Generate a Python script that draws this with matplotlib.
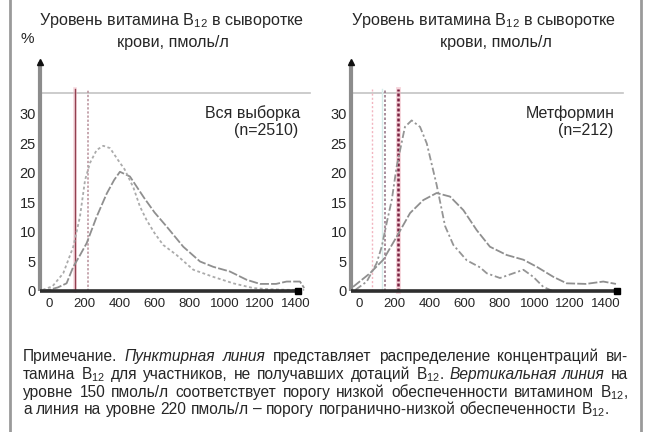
import matplotlib
matplotlib.use('Agg')
import matplotlib.pyplot as plt
from matplotlib.lines import Line2D

plt.rcParams['font.family'] = ['Liberation Sans', 'DejaVu Sans']

# ---------------- data ----------------
x_ticks = [0, 200, 400, 600, 800, 1000, 1200, 1400]
y_ticks = [0, 5, 10, 15, 20, 25, 30]
thresholds = [150, 220]
ref_level = 33.6

# Left panel: all participants (n=2510)
all_x = [-40, 0, 50, 100, 138, 175, 214, 271, 328, 370, 403, 460, 540, 600, 669,
         763, 858, 933, 1028, 1123, 1199, 1290, 1350, 1426, 1450]
all_y = [0.0, 0.2, 0.6, 1.3, 4.1, 6.0, 8.1, 12.6, 16.5, 18.8, 20.2, 19.4, 15.8, 13.3, 10.9,
         7.5, 5.0, 4.1, 3.3, 1.9, 1.2, 1.2, 1.6, 1.6, 0.5]
# Left panel: no B12 supplements (dashed)
all_ns_x = [-35, 20, 81, 138, 176, 205, 233, 271, 309, 347, 392, 430, 480, 517, 555,
            600, 649, 725, 820, 933, 1047, 1160, 1250, 1350, 1450]
all_ns_y = [0.2, 0.8, 3.0, 7.5, 12.6, 18.8, 21.7, 23.9, 24.6, 24.2, 22.2, 20.6, 17.5, 14.3, 12.0,
            9.8, 7.8, 6.1, 3.6, 2.4, 1.3, 0.5, 0.3, 0.2, 0.2]

# Right panel: metformin (n=212)
met_x = [-34, 62, 138, 214, 290, 365, 441, 517, 593, 669, 744, 839, 934, 1010,
         1104, 1180, 1289, 1388, 1460]
met_y = [0.7, 3.0, 5.3, 9.2, 13.2, 15.4, 16.6, 16.0, 13.7, 10.3, 7.5, 6.1, 5.3, 4.1,
         2.4, 1.3, 1.2, 1.6, 1.2]
# Right panel: metformin, no B12 supplements (dashed)
met_ns_x = [-20, 44, 100, 129, 157, 186, 214, 261, 299, 347, 385, 441, 489, 536,
            612, 688, 726, 801, 877, 934, 990, 1047, 1100]
met_ns_y = [0.2, 1.6, 4.7, 7.5, 11.5, 15.4, 21.1, 27.8, 28.9, 27.8, 25.0, 18.0, 11.0, 7.8,
            5.2, 4.0, 3.0, 2.2, 3.0, 3.6, 2.4, 0.7, 0.0]

title_l1 = r'Уровень витамина $\mathregular{B_{12}}$ в сыворотке'
title_l2 = 'крови, пмоль/л'
labels = [('Вся выборка', '(n=2510)'), ('Метформин', '(n=212)')]

note_lines = [
    [('Примечание.', 'normal'), ('Пунктирная', 'italic'), ('линия', 'italic'),
     ('представляет', 'normal'), ('распределение', 'normal'), ('концентраций', 'normal'),
     ('ви-', 'normal')],
    [('тамина', 'normal'), (r'$\mathregular{B_{12}}$', 'normal'), ('для', 'normal'),
     ('участников,', 'normal'), ('не', 'normal'), ('получавших', 'normal'),
     ('дотаций', 'normal'), (r'$\mathregular{B_{12}}$.', 'normal'),
     ('Вертикальная', 'italic'), ('линия', 'italic'), ('на', 'normal')],
    [('уровне', 'normal'), ('150', 'normal'), ('пмоль/л', 'normal'),
     ('соответствует', 'normal'), ('порогу', 'normal'), ('низкой', 'normal'),
     ('обеспеченности', 'normal'), ('витамином', 'normal'),
     (r'$\mathregular{B_{12}}$,', 'normal')],
    [('а', 'normal'), ('линия', 'normal'), ('на', 'normal'), ('уровне', 'normal'),
     ('220', 'normal'), ('пмоль/л', 'normal'), ('–', 'normal'), ('порогу', 'normal'),
     ('погранично-низкой', 'normal'), ('обеспеченности', 'normal'),
     (r'$\mathregular{B_{12}}$.', 'normal')],
]

# ---------------- figure ----------------
W, H = 645, 432
fig = plt.figure(figsize=(W / 100, H / 100), dpi=100)
fig.patch.set_facecolor('white')
TXT = '#262626'


def fx(px):
    return px / W


def fy(py):
    return 1 - py / H


panels = [
    dict(left=40, right=310, xmin=-51, xmax=1483, xend=1415,
         curves=[(all_x, all_y), (all_ns_x, all_ns_y)], label=labels[0],
         tcx1=172, tcx2=173, lab_right=300, hline_end=1483),
    dict(left=351, right=623, xmin=-45.5, xmax=1500, xend=1466,
         curves=[(met_x, met_y), (met_ns_x, met_ns_y)], label=labels[1],
         tcx1=484, tcx2=496, lab_right=615, hline_end=1500),
]

top_px, bot_px = 62, 291
ymax = 38.8

for i, p in enumerate(panels):
    ax = fig.add_axes([fx(p['left']), fy(bot_px), (p['right'] - p['left']) / W,
                       (bot_px - top_px) / H])
    ax.set_xlim(p['xmin'], p['xmax'])
    ax.set_ylim(0, ymax)
    for s in ax.spines.values():
        s.set_visible(False)
    ax.set_xticks(x_ticks)
    ax.set_xticklabels([str(v) for v in x_ticks])
    ax.set_yticks(y_ticks)
    ax.set_yticklabels([str(v) for v in y_ticks])
    ax.tick_params(axis='x', length=0, pad=5, labelsize=9.5, labelcolor=TXT)
    ax.tick_params(axis='y', length=0, pad=3, labelsize=10.5, labelcolor=TXT)
    ax.patch.set_alpha(0)

    # reference horizontal line
    ax.plot([p['xmin'], p['hline_end']], [ref_level, ref_level], color='#c4c4c4',
            lw=1.2, clip_on=False, zorder=1)

    # threshold lines
    if i == 0:
        ax.plot([thresholds[0]] * 2, [0, 34.2], color='#f0c0ca', lw=2.6, alpha=0.6,
                clip_on=False, zorder=2)
        ax.plot([thresholds[0]] * 2, [0, 34.2], color='#934050', lw=1.0,
                clip_on=False, zorder=3)
        ax.plot([thresholds[1]] * 2, [0, 34.2], color='#b8909a', lw=1.1,
                ls=(0, (1.5, 1.2)), clip_on=False, zorder=3)
    else:
        ax.plot([75, 75], [0, 34.2], color='#f2b5c0', lw=1.0, ls=(0, (1.5, 1.5)),
                clip_on=False, zorder=2)
        ax.plot([130, 130], [0, 34.2], color='#d5ebea', lw=1.0, clip_on=False, zorder=2)
        ax.plot([thresholds[0]] * 2, [0, 34.2], color='#9a7a8a', lw=1.2,
                ls=(0, (1.5, 1.2)), clip_on=False, zorder=3)
        ax.plot([thresholds[1]] * 2, [0, 34.2], color='#f0b8c4', lw=3.5, alpha=0.6,
                clip_on=False, zorder=2)
        ax.plot([thresholds[1]] * 2, [0, 34.2], color='#7a2040', lw=1.8,
                ls=(0, (1.2, 0.8)), clip_on=False, zorder=3)

    # curves
    (sx, sy), (dx, dy) = p['curves']
    ax.plot(sx, sy, color='#8f8f8f', lw=1.3, ls=(0, (5, 1.2)), zorder=4, clip_on=False)
    if i == 0:
        ax.plot(dx, dy, color='#ababab', lw=1.3, ls=(0, (1.6, 1.4)), zorder=4, clip_on=False)
    else:
        ax.plot(dx, dy, color='#959595', lw=1.3, ls=(0, (4, 1.5, 1.2, 1.5)), zorder=4,
                clip_on=False)

    # axes lines
    ax.plot([p['xmin'], p['xmin']], [0, ymax], color='#8c8c8c', lw=3.0,
            clip_on=False, zorder=5, solid_capstyle='butt')
    ax.plot([p['xmin']], [ymax], marker='^', color='#111111', ms=4, clip_on=False, zorder=6)
    ax.plot([p['xmin'], p['xend']], [0, 0], color='#2e2e2e', lw=2.6,
            clip_on=False, zorder=5, solid_capstyle='butt')
    ax.plot([p['xend']], [0], marker='s', color='#000000', ms=4, clip_on=False, zorder=6)

    # titles
    fig.text(fx(p['tcx1']), fy(20), title_l1, ha='center', va='center',
             fontsize=11.6, color=TXT)
    fig.text(fx(p['tcx2']), fy(42), title_l2, ha='center', va='center',
             fontsize=11.6, color=TXT)
    # labels
    fig.text(fx(p['lab_right']), fy(113), p['label'][0], ha='right', va='center',
             fontsize=11.5, color=TXT)
    fig.text(fx(p['lab_right'] - 2), fy(130), p['label'][1], ha='right', va='center',
             fontsize=11.5, color=TXT)

fig.text(fx(27), fy(39), '%', ha='center', va='center', fontsize=11, color=TXT)

# frame lines
for xp in (10, 641):
    fig.add_artist(Line2D([fx(xp)] * 2, [0, 1], color='#9a9a9a', lw=2.0,
                          transform=fig.transFigure))

# ---------------- justified note ----------------
renderer = fig.canvas.get_renderer()
fs_note = 11.2
x0, x1 = 23, 628
baselines = [361, 379, 397, 414]
space_px = 0.28 * fs_note * 100 / 72
for li, (words, yb) in enumerate(zip(note_lines, baselines)):
    texts, widths = [], []
    for w, st in words:
        t = fig.text(0, fy(yb), w, fontsize=fs_note, style=st, ha='left',
                     va='baseline', color=TXT)
        widths.append(t.get_window_extent(renderer).width)
        texts.append(t)
    if li < len(note_lines) - 1:
        gap = (x1 - x0 - sum(widths)) / (len(words) - 1)
    else:
        gap = space_px
    xc = x0
    for t, wd in zip(texts, widths):
        t.set_x(fx(xc))
        xc += wd + gap

fig.savefig('out.png', dpi=100, facecolor='white')
